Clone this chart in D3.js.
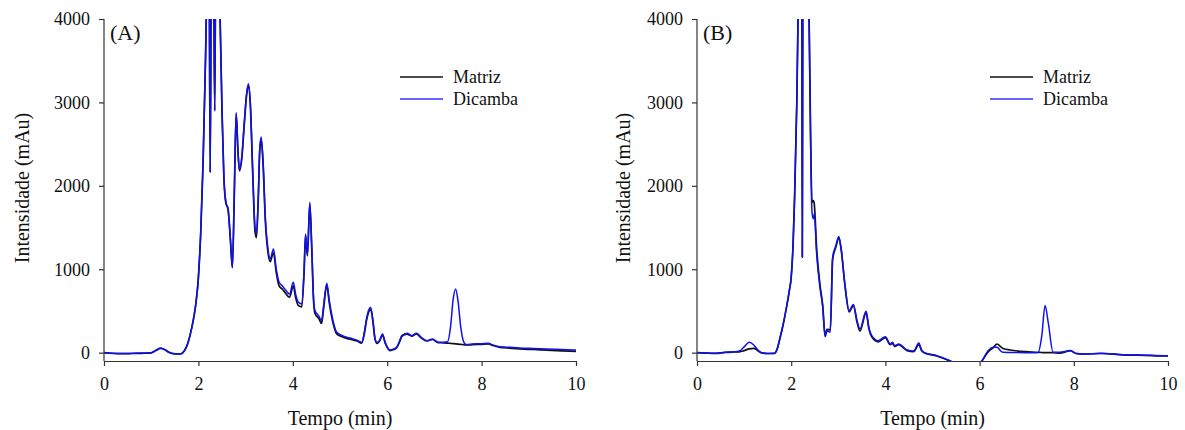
<!DOCTYPE html>
<html>
<head>
<meta charset="utf-8">
<script src="https://cdn.jsdelivr.net/npm/d3@7"></script>
<style>
  html, body { margin: 0; padding: 0; background: #fff; }
  svg { display: block; }
  text { font-family: "Liberation Serif", "Times New Roman", "DejaVu Serif", serif; fill: #111; }
</style>
</head>
<body>
<svg id="chart" width="1185" height="430"></svg>
<script>
// ---------------- DATA ----------------
const xTicks = [0, 2, 4, 6, 8, 10];
const yTicks = [0, 1000, 2000, 3000, 4000];
const seriesNames = ["Matriz", "Dicamba"];
const panelLabels = ["(A)", "(B)"];

// Panel A (time in min, intensity in mAu)
const timeA = [0.00,0.20,0.40,0.60,0.80,1.00,1.10,1.20,1.28,1.38,1.50,1.62,1.70,1.78,1.86,1.94,2.00,2.05,2.10,2.15,2.19,2.225,2.25,2.275,2.32,2.345,2.37,2.42,2.46,2.50,2.54,2.58,2.63,2.68,2.72,2.76,2.80,2.84,2.87,2.92,2.97,3.02,3.06,3.10,3.15,3.20,3.23,3.27,3.30,3.33,3.37,3.42,3.47,3.52,3.59,3.65,3.71,3.78,3.83,3.93,4.01,4.06,4.12,4.19,4.24,4.27,4.31,4.36,4.40,4.44,4.47,4.55,4.61,4.65,4.72,4.77,4.81,4.87,4.93,5.03,5.14,5.22,5.28,5.36,5.46,5.52,5.56,5.65,5.70,5.74,5.78,5.84,5.90,5.96,6.06,6.14,6.20,6.27,6.31,6.42,6.52,6.62,6.72,6.84,6.96,7.08,7.20,7.28,7.34,7.40,7.45,7.50,7.56,7.62,7.68,7.81,8.00,8.14,8.25,8.39,8.60,8.81,9.10,9.38,9.70,10.00];
const dicambaA = [0,-8,-10,-8,-5,0,30,55,40,5,-12,-15,20,120,300,560,900,1450,2300,3500,4600,4800,2160,4800,4800,2900,4800,4600,4000,2900,2100,1820,1700,1350,1020,1900,2880,2400,2190,2350,2740,3100,3224,3000,2200,1500,1430,1900,2450,2584,2300,1600,1260,1124,1244,1000,844,800,764,704,844,700,604,584,1000,1424,1184,1804,1300,650,504,440,384,550,832,640,504,340,244,210,184,175,164,150,124,260,404,544,380,180,124,150,224,120,32,45,64,150,204,232,204,232,184,144,164,124,124,130,300,650,764,620,300,130,96,104,108,112,90,72,64,56,50,44,38,32];
const matrizA = [0,-10,-12,-10,-8,-3,25,50,38,3,-14,-16,20,120,300,560,900,1450,2300,3500,4600,4800,2160,4800,4800,2900,4800,4600,4000,2900,2100,1800,1720,1330,1020,1880,2860,2390,2180,2330,2720,3080,3200,2970,2160,1450,1380,1860,2420,2560,2260,1560,1220,1090,1200,960,800,760,724,664,800,660,564,550,980,1400,1160,1780,1270,620,470,410,350,520,810,610,470,315,225,195,170,162,152,140,115,240,380,520,360,165,112,140,210,110,25,38,58,140,195,222,198,225,178,140,158,120,118,114,111,108,105,102,99,96,92,96,100,104,84,64,54,45,38,30,22,16];

// Panel B
const timeB = [0.00,0.20,0.40,0.60,0.80,0.90,1.00,1.11,1.20,1.28,1.36,1.50,1.65,1.70,1.76,1.83,1.90,1.96,2.00,2.04,2.07,2.12,2.15,2.19,2.225,2.236,2.247,2.30,2.35,2.38,2.41,2.44,2.47,2.49,2.54,2.61,2.67,2.72,2.76,2.83,2.88,2.95,3.01,3.06,3.14,3.23,3.32,3.40,3.46,3.59,3.65,3.71,3.85,4.00,4.10,4.15,4.20,4.28,4.46,4.60,4.71,4.77,4.82,5.09,5.37,5.60,5.85,6.00,6.05,6.18,6.29,6.37,6.45,6.50,6.65,6.98,7.24,7.32,7.39,7.46,7.56,7.70,7.93,8.05,8.20,8.58,9.04,9.50,9.93,10.00];
const dicambaB = [0,-5,-8,5,10,20,70,124,95,40,0,-10,-8,40,170,340,544,740,904,1300,1824,3024,4200,4800,4500,1144,4500,4800,4500,4000,2600,1700,1604,1664,1184,784,544,192,260,244,1144,1284,1392,1250,824,504,576,380,284,496,300,204,144,192,104,124,84,104,32,20,116,30,4,-36,-96,-160,-170,-130,-96,24,64,66,20,4,2,0,0,200,564,350,5,5,24,-10,-16,-8,-24,-30,-36,-36];
const matrizB = [0,-5,-8,3,8,10,25,45,52,30,0,-10,-8,40,170,340,544,740,904,1300,1824,3024,4200,4800,4500,1144,4500,4800,4500,4000,2700,1800,1824,1780,1250,820,560,200,280,272,1120,1270,1380,1240,810,490,560,360,260,480,285,190,130,180,95,110,75,95,25,12,95,22,0,-40,-100,-165,-175,-135,-100,10,60,104,70,50,32,12,5,2,0,0,0,-5,24,-10,-16,-10,-26,-32,-38,-38];

// ---------------- DRAW ----------------
const svg = d3.select("#chart");
const yTop = 19, yBottom = 361;
const yDomain = [-100, 4000];
const font = '"Liberation Serif", "Times New Roman", serif';

const panels = [
  { label: panelLabels[0], time: timeA, dic: dicambaA, mat: matrizA, x0: 104, x1: 576,
    legendX: 400, yLabelX: 29, labelX: 110 },
  { label: panelLabels[1], time: timeB, dic: dicambaB, mat: matrizB, x0: 697, x1: 1168,
    legendX: 990, yLabelX: 630, labelX: 703 }
];

panels.forEach((p, i) => {
  const x = d3.scaleLinear().domain([0, 10]).range([p.x0, p.x1]);
  const y = d3.scaleLinear().domain(yDomain).range([yBottom, yTop]);
  const g = svg.append("g");

  const clipId = "clip" + i;
  svg.append("clipPath").attr("id", clipId).append("rect")
    .attr("x", p.x0).attr("y", yTop).attr("width", p.x1 - p.x0 + 2).attr("height", yBottom - yTop);

  const line = d3.line().x(d => x(d[0])).y(d => y(d[1])).curve(d3.curveMonotoneX);
  const matData = p.time.map((t, k) => [t, p.mat[k]]);
  const dicData = p.time.map((t, k) => [t, p.dic[k]]);

  const lines = g.append("g").attr("clip-path", `url(#${clipId})`);
  lines.append("path").datum(matData).attr("d", line)
    .attr("fill", "none").attr("stroke", "#111").attr("stroke-width", 1.7).attr("stroke-linejoin", "round");
  lines.append("path").datum(dicData).attr("d", line)
    .attr("fill", "none").attr("stroke", "#1010ee").attr("stroke-width", 1.5).attr("stroke-linejoin", "round");

  // axes
  const xAxis = d3.axisBottom(x).tickValues(xTicks).tickSize(5).tickSizeOuter(0).tickPadding(11).tickFormat(d3.format("d"));
  const yAxis = d3.axisLeft(y).tickValues(yTicks).tickSize(5).tickSizeOuter(0).tickPadding(9).tickFormat(d3.format("d"));
  const gx = g.append("g").attr("transform", `translate(0,${yBottom})`).call(xAxis);
  const gy = g.append("g").attr("transform", `translate(${p.x0},0)`).call(yAxis);
  [gx, gy].forEach(a => {
    a.attr("font-family", null);
    a.selectAll("path.domain").attr("stroke", "#333").attr("stroke-width", 1.2);
    a.selectAll(".tick line").attr("stroke", "#333").attr("stroke-width", 1.2);
    a.selectAll(".tick text").style("font-family", font).style("font-size", "18px").attr("fill", "#111");
  });
  gy.select("path.domain").attr("d", `M0,${yBottom}V${yTop}`);

  // panel label
  g.append("text").attr("x", p.labelX).attr("y", 40).style("font-size", "22px").text(p.label);

  // axis titles
  g.append("text").attr("x", (p.x0 + p.x1) / 2).attr("y", 425).attr("text-anchor", "middle")
    .style("font-size", "20px").text("Tempo (min)");
  g.append("text").attr("transform", `translate(${p.yLabelX},${188}) rotate(-90)`)
    .attr("text-anchor", "middle").style("font-size", "20px").text("Intensidade (mAu)");

  // legend
  const colors = ["#111", "#3333ff"];
  seriesNames.forEach((name, k) => {
    const ly = 77 + k * 22;
    g.append("line").attr("x1", p.legendX).attr("x2", p.legendX + 43).attr("y1", ly).attr("y2", ly)
      .attr("stroke", colors[k]).attr("stroke-width", 1.6);
    g.append("text").attr("x", p.legendX + 53).attr("y", ly + 6).style("font-size", "18px").text(name);
  });
});
</script>
</body>
</html>
